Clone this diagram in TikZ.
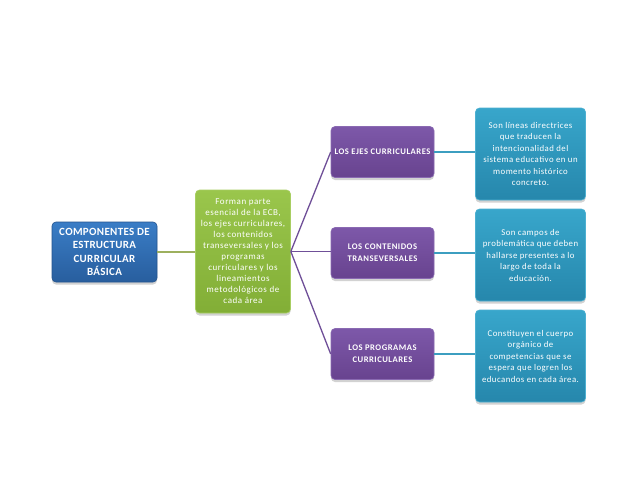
\documentclass[tikz,border=0pt]{standalone}
\usepackage{fontspec}
\setmainfont{Carlito}
\usetikzlibrary{shadows}
\definecolor{bluetop}{HTML}{3A7DC6}
\definecolor{bluebot}{HTML}{285E9E}
\definecolor{blueline}{HTML}{24548E}
\definecolor{greentop}{HTML}{9AC64C}
\definecolor{greenbot}{HTML}{82AE36}
\definecolor{greenline}{HTML}{A8CE62}
\definecolor{purptop}{HTML}{7D58A9}
\definecolor{purpbot}{HTML}{68438F}
\definecolor{purpline}{HTML}{8A6AB2}
\definecolor{tealtop}{HTML}{38A6CB}
\definecolor{tealbot}{HTML}{2687AC}
\definecolor{tealline}{HTML}{4DB0D1}
\definecolor{conA}{HTML}{9DB05E}
\definecolor{conB}{HTML}{6F4F98}
\definecolor{conC}{HTML}{3C9EC0}
\tikzset{
  x=1pt, y=-1pt,
  boxbase/.style={rounded corners=4pt, align=center, text=white, inner sep=2pt,
     drop shadow={shadow xshift=0pt, shadow yshift=-2.5pt, opacity=0.25, fill=black!70}},
  rootbox/.style={boxbase, top color=bluetop, bottom color=bluebot, draw=blueline, line width=0.6pt,
     minimum width=105pt, minimum height=60pt,
     font=\fontsize{11}{13.5}\selectfont\bfseries\addfontfeatures{LetterSpace=3}},
  greenbox/.style={boxbase, top color=greentop, bottom color=greenbot, draw=greenline, line width=0.6pt,
     minimum width=95pt, minimum height=123pt,
     font=\fontsize{9}{11}\selectfont\addfontfeatures{LetterSpace=6}},
  purpbox/.style={boxbase, top color=purptop, bottom color=purpbot, draw=purpline, line width=0.6pt,
     minimum width=103pt, minimum height=51pt,
     font=\fontsize{8.6}{12}\selectfont\bfseries\addfontfeatures{LetterSpace=6}},
  tealbox/.style={boxbase, top color=tealtop, bottom color=tealbot, draw=tealline, line width=0.6pt,
     minimum width=110pt, minimum height=92pt,
     font=\fontsize{8.8}{11.5}\selectfont\addfontfeatures{LetterSpace=5}},
  linkA/.style={draw=conA, line width=1.6pt},
  linkB/.style={draw=conB, line width=1.3pt},
  linkC/.style={draw=conC, line width=1.6pt}
}
\begin{document}
\begin{tikzpicture}
\useasboundingbox[fill=white] (0,0) rectangle (638,493);
\node[rootbox] (root) at (104.5,252) {COMPONENTES DE\\ESTRUCTURA\\CURRICULAR\\BÁSICA};
\node[greenbox] (green) at (243,251.5) {Forman parte\\esencial de la ECB,\\los ejes curriculares,\\los contenidos\\transeversales y los\\programas\\curriculares y los\\lineamientos\\metodológicos de\\cada área};
\node[purpbox] (p1) at (382.5,152) {LOS EJES CURRICULARES};
\node[purpbox] (p2) at (382.5,253) {LOS CONTENIDOS\\TRANSEVERSALES};
\node[purpbox] (p3) at (382.5,354) {LOS PROGRAMAS\\CURRICULARES};
\node[tealbox] (t1) at (530.5,154) {Son líneas directrices\\que traducen la\\intencionalidad del\\sistema educativo en un\\momento histórico\\concreto.};
\node[tealbox] (t2) at (530.5,255) {Son campos de\\problemática que deben\\hallarse presentes a lo\\largo de toda la\\educación.};
\node[tealbox] (t3) at (530.5,356) {Constituyen el cuerpo\\orgánico de\\competencias que se\\espera que logren los\\educandos en cada área.};
\draw[linkA] (root.east) -- (green.west |- root.east);
\draw[linkB] (green.east) -- (p1.west);
\draw[linkB] (green.east) -- (p2.west |- green.east);
\draw[linkB] (green.east) -- (p3.west);
\draw[linkC] (p1.east) -- (t1.west |- p1.east);
\draw[linkC] (p2.east) -- (t2.west |- p2.east);
\draw[linkC] (p3.east) -- (t3.west |- p3.east);
\end{tikzpicture}
\end{document}
